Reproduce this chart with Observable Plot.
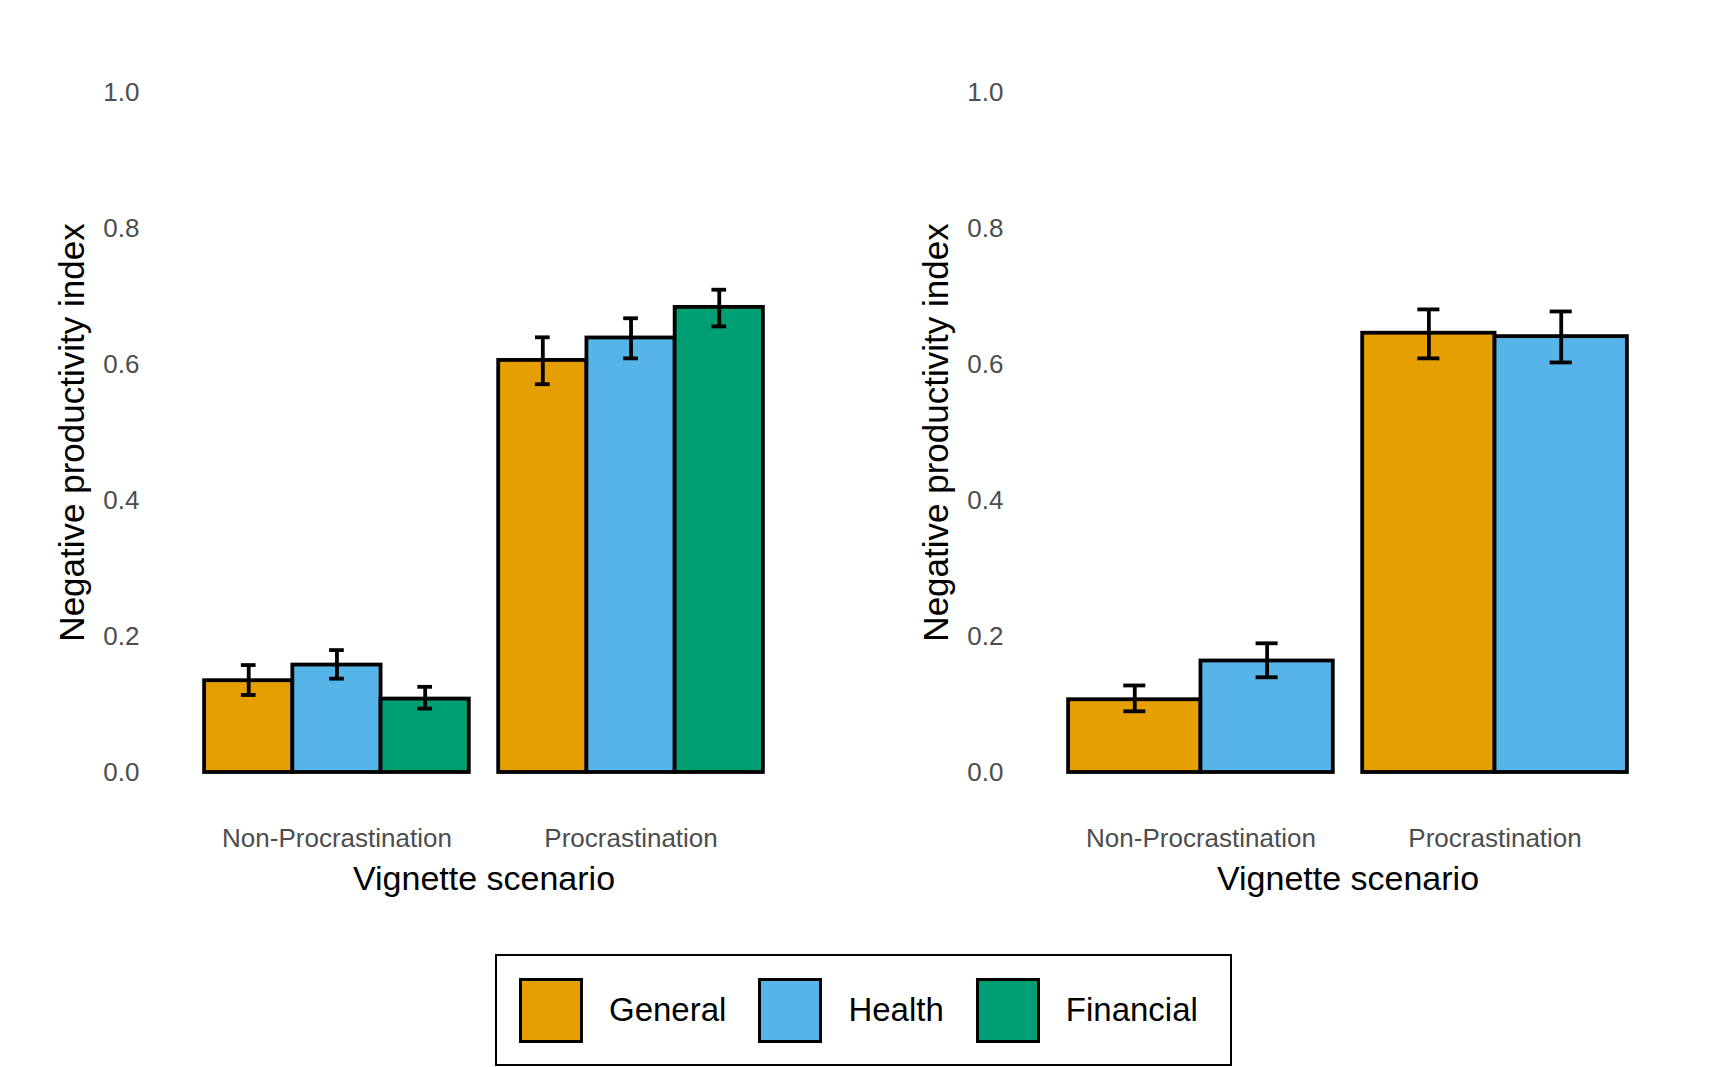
<!DOCTYPE html>
<html>
<head>
<meta charset="utf-8">
<script src="https://cdn.jsdelivr.net/npm/d3@7"></script>
<script src="https://cdn.jsdelivr.net/npm/@observablehq/plot@0.6"></script>
<style>
  html, body { margin: 0; padding: 0; background: #ffffff; }
  #wrap { position: relative; width: 1728px; height: 1067px; overflow: hidden; font-family: "Liberation Sans", Arial, sans-serif; }
  .panel { position: absolute; top: 0; }
  #legend { position: absolute; left: 495px; top: 954px; width: 737px; height: 112px; box-sizing: border-box;
            border: 2.5px solid #000; display: flex; align-items: center; padding-left: 22px; }
  .item { display: flex; align-items: center; margin-right: 32px; }
  .sw { width: 64px; height: 65px; box-sizing: border-box; border: 3.5px solid #000; }
  .lab { margin-left: 26px; font-size: 33px; color: #000; }
</style>
</head>
<body>
<div id="wrap">
  <div id="left" class="panel" style="left:0px"></div>
  <div id="right" class="panel" style="left:864px"></div>
  <div id="legend"></div>
</div>
<script>
// ---- data ----
const scenarios = ["Non-Procrastination", "Procrastination"];
const conditions = ["General", "Health", "Financial"];
const colors = ["#E69F00", "#56B4E9", "#009E73"];
const yTicks = [0, 0.2, 0.4, 0.6, 0.8, 1.0];
const yTitle = "Negative productivity index";
const xTitle = "Vignette scenario";

// Left panel (three vignette domains)
const leftConditions = ["General", "Health", "Financial"];
const leftNonProcMean = [0.135, 0.158, 0.108];
const leftNonProcLow  = [0.114, 0.138, 0.094];
const leftNonProcHigh = [0.158, 0.180, 0.126];
const leftProcMean    = [0.606, 0.639, 0.684];
const leftProcLow     = [0.571, 0.609, 0.656];
const leftProcHigh    = [0.640, 0.668, 0.710];

// Right panel (two vignette domains)
const rightConditions = ["General", "Health"];
const rightNonProcMean = [0.107, 0.164];
const rightNonProcLow  = [0.090, 0.140];
const rightNonProcHigh = [0.128, 0.190];
const rightProcMean    = [0.646, 0.641];
const rightProcLow     = [0.609, 0.603];
const rightProcHigh    = [0.681, 0.678];

// ---- build rows with ggplot-like dodge (width 0.9) ----
function buildRows(conds, means, lows, highs) {
  const n = conds.length;
  const rows = [];
  means.forEach((m, s) => {
    conds.forEach((c, j) => {
      const xc = (s + 1) + (j - (n - 1) / 2) * (0.9 / n);
      rows.push({
        scenario: scenarios[s], cond: c, mean: m[j], lo: lows[s][j], hi: highs[s][j],
        xc, x1: xc - 0.45 / n, x2: xc + 0.45 / n,
        c1: xc - 0.075 / n, c2: xc + 0.075 / n
      });
    });
  });
  return rows;
}

function panel(rows) {
  const H = 940;
  const sw = 3.8;
  return Plot.plot({
    width: 864, height: H,
    marginLeft: 160, marginRight: 57, marginTop: 92, marginBottom: H - 772,
    x: {domain: [0.4, 2.6]},
    y: {domain: [0, 1]},
    color: {domain: conditions, range: colors},
    style: {fontFamily: "'Liberation Sans', Arial, sans-serif", fontSize: "26px", color: "#4d4d4d", background: "white", overflow: "visible"},
    marks: [
      Plot.rect(rows, {x1: "x1", x2: "x2", y1: 0, y2: "mean", fill: "cond", stroke: "black", strokeWidth: sw}),
      Plot.ruleX(rows, {x: "xc", y1: "lo", y2: "hi", stroke: "black", strokeWidth: sw}),
      Plot.ruleY(rows, {x1: "c1", x2: "c2", y: "lo", stroke: "black", strokeWidth: sw}),
      Plot.ruleY(rows, {x1: "c1", x2: "c2", y: "hi", stroke: "black", strokeWidth: sw}),
      Plot.axisY({ticks: yTicks, tickFormat: d3.format(".1f"), tickSize: 0, tickPadding: 21, label: null}),
      Plot.axisX({ticks: [1, 2], tickFormat: d => scenarios[d - 1], tickSize: 0, tickPadding: 56, label: null}),
      Plot.text([yTitle], {frameAnchor: "left", dx: -88, rotate: -90, fontSize: 35, fill: "black",
                           textAnchor: "middle", lineAnchor: "middle"}),
      Plot.text([xTitle], {frameAnchor: "bottom", dy: 107, fontSize: 34, fill: "black",
                           textAnchor: "middle", lineAnchor: "middle"})
    ]
  });
}

const leftRows = buildRows(leftConditions,
  [leftNonProcMean, leftProcMean], [leftNonProcLow, leftProcLow], [leftNonProcHigh, leftProcHigh]);
const rightRows = buildRows(rightConditions,
  [rightNonProcMean, rightProcMean], [rightNonProcLow, rightProcLow], [rightNonProcHigh, rightProcHigh]);

document.getElementById("left").appendChild(panel(leftRows));
document.getElementById("right").appendChild(panel(rightRows));

// ---- legend ----
const legend = document.getElementById("legend");
conditions.forEach((c, i) => {
  const item = document.createElement("div");
  item.className = "item";
  const sw = document.createElement("div");
  sw.className = "sw";
  sw.style.background = colors[i];
  const lab = document.createElement("span");
  lab.className = "lab";
  lab.textContent = c;
  item.appendChild(sw);
  item.appendChild(lab);
  legend.appendChild(item);
});
</script>
</body>
</html>
